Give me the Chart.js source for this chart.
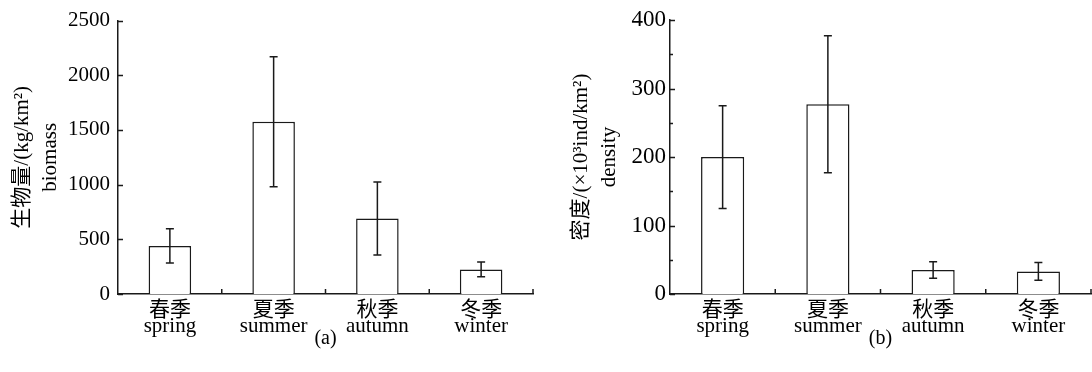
<!DOCTYPE html>
<html>
<head>
<meta charset="utf-8">
<script src="https://cdn.jsdelivr.net/npm/chart.js@4.4.0/dist/chart.umd.min.js"></script>
<style>
  html, body { margin: 0; padding: 0; background: #fff; width: 1092px; height: 372px; overflow: hidden; }
  canvas { position: absolute; top: 0; }
  #chartA { left: 0; }
  #chartB { left: 558px; }
</style>
</head>
<body>
<canvas id="chartA" width="545" height="372"></canvas>
<canvas id="chartB" width="534" height="372"></canvas>
<script>
// Données
const seasons = [['春季', 'spring'], ['夏季', 'summer'], ['秋季', 'autumn'], ['冬季', 'winter']];
const biomass = [440, 1575, 690, 225];
const biomassErr = [157, 594, 333, 67];
const density = [200, 277, 35, 33];
const densityErr = [75, 100, 12, 13];

const ink = '#1a1a1a';
Chart.defaults.font.family = '"Liberation Serif", "Noto Sans CJK SC", serif';
Chart.defaults.font.size = 21;
Chart.defaults.color = '#000';

// Barres d'erreur dessinées avec les échelles du graphique
const errorBars = {
  id: 'errorBars',
  afterDatasetsDraw(chart, args, opts) {
    const { ctx, scales: { x, y } } = chart;
    const vals = chart.data.datasets[0].data;
    ctx.save();
    ctx.strokeStyle = ink;
    ctx.lineWidth = 1.5;
    vals.forEach((v, i) => {
      const px = x.getPixelForValue(i);
      const top = y.getPixelForValue(v + opts.errors[i]);
      const bot = y.getPixelForValue(v - opts.errors[i]);
      ctx.beginPath();
      ctx.moveTo(px, top); ctx.lineTo(px, bot);
      ctx.moveTo(px - 4, top); ctx.lineTo(px + 4, top);
      ctx.moveTo(px - 4, bot); ctx.lineTo(px + 4, bot);
      ctx.stroke();
    });
    ctx.restore();
  }
};

// Graduations tournées vers l'intérieur
const innerTicks = {
  id: 'innerTicks',
  afterDraw(chart, args, opts) {
    const { ctx, scales: { x, y } } = chart;
    ctx.save();
    ctx.strokeStyle = ink;
    ctx.beginPath();
    y.ticks.forEach(t => {
      const py = Math.round(y.getPixelForValue(t.value)) + 0.5;
      const len = t.value % opts.major === 0 ? 5 : 3;
      ctx.moveTo(y.right, py); ctx.lineTo(y.right + len, py);
    });
    const n = chart.data.labels.length;
    for (let i = 1; i <= n; i++) {
      const px = i === n ? x.right : (x.getPixelForValue(i - 1) + x.getPixelForValue(i)) / 2;
      ctx.moveTo(px, x.top); ctx.lineTo(px, x.top - 5);
    }
    ctx.lineWidth = 1.5;
    ctx.stroke();
    ctx.restore();
  }
};

function makeChart(id, values, errors, cfg) {
  return new Chart(document.getElementById(id), {
    type: 'bar',
    data: {
      labels: seasons,
      datasets: [{
        data: values,
        backgroundColor: '#fff',
        borderColor: ink,
        borderWidth: 1.5,
        barPercentage: 0.41,
        categoryPercentage: 1
      }]
    },
    options: {
      responsive: false,
      animation: false,
      layout: { padding: { top: 20, right: cfg.padRight, bottom: 0, left: 0 } },
      plugins: {
        legend: { display: false },
        tooltip: { enabled: false },
        errorBars: { errors: errors },
        innerTicks: { major: cfg.major }
      },
      scales: {
        x: {
          afterFit: s => { s.height = 78; },
          border: { display: true, color: ink, width: 1.5 },
          grid: { display: false, drawTicks: false },
          ticks: { padding: 8, font: { size: 21, lineHeight: '16px' }, maxRotation: 0, autoSkip: false },
          title: { display: true, text: cfg.panel, font: { size: 20 }, padding: { top: 0, bottom: 21 } }
        },
        y: {
          min: 0,
          max: cfg.max,
          afterFit: s => { s.width = cfg.axisX; },
          border: { display: true, color: ink, width: 1.5 },
          grid: { display: false, drawTicks: false },
          ticks: {
            stepSize: cfg.major / 2,
            padding: cfg.tickPad,
            font: { size: cfg.tickSize },
            callback: v => (v % cfg.major === 0 ? v : '')
          },
          title: {
            display: true,
            text: cfg.title,
            font: { size: 21, lineHeight: '28px' },
            padding: { top: cfg.titlePad, bottom: 0 }
          }
        }
      }
    },
    plugins: [errorBars, innerTicks]
  });
}

makeChart('chartA', biomass, biomassErr, {
  panel: '(a)', max: 2500, major: 500, axisX: 118, padRight: 12, tickPad: 8, tickSize: 21, titlePad: 8,
  title: ['生物量/(kg/km²)', 'biomass']
});

makeChart('chartB', density, densityErr, {
  panel: '(b)', max: 400, major: 100, axisX: 112, padRight: 1, tickPad: 4, tickSize: 23, titlePad: 9,
  title: ['密度/(×10³ind/km²)', 'density']
});
</script>
</body>
</html>
